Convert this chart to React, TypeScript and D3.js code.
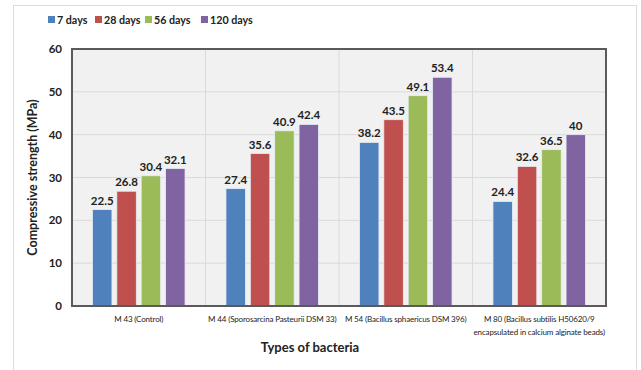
import React from "react";
import * as d3 from "d3";

const categories = [
  ["M 43 (Control)"],
  ["M 44 (Sporosarcina Pasteurii DSM 33)"],
  ["M 54  (Bacillus sphaericus DSM 396)"],
  ["M 80 (Bacillus subtilis H50620/9", "encapsulated in calcium alginate beads)"],
];
const seriesNames = ["7 days", "28 days", "56 days", "120 days"];
const seriesColors = ["#4f81bd", "#c0504d", "#9bbb59", "#8064a2"];
const values7 = [22.5, 27.4, 38.2, 24.4];
const values28 = [26.8, 35.6, 43.5, 32.6];
const values56 = [30.4, 40.9, 49.1, 36.5];
const values120 = [32.1, 42.4, 53.4, 40];
const yTicks = [0, 10, 20, 30, 40, 50, 60];

const W = 641, H = 370;
const L = 72, R = 606, T = 49, B = 306;
const FONT = "Lato, 'Open Sans', sans-serif";

export default function App() {
  const series = [values7, values28, values56, values120];
  const x = d3.scaleBand<number>().domain(d3.range(categories.length)).range([L, R]).padding(0);
  const bw = x.bandwidth();
  const inner = d3.scaleBand<number>().domain(d3.range(series.length)).range([bw * 0.135, bw * 0.865]).paddingInner(0.2).paddingOuter(0.1);
  const y = d3.scaleLinear().domain([0, 60]).range([B, T]);
  const legendX = [48, 95, 145, 201];
  return (
    <svg width={W} height={H} style={{ position: "absolute", left: 0, top: 0, background: "#fff" }} fontFamily={FONT}>
      <rect x={13.5} y={5.5} width={623} height={400} fill="#fff" stroke="#dcdcdc" strokeWidth={1} />
      <rect x={L} y={T} width={R - L} height={B - T} fill="#f1f1f1" />
      {yTicks.slice(1, -1).map((t) => (
        <line key={t} x1={L} x2={R} y1={y(t)} y2={y(t)} stroke="#dadada" strokeWidth={1} />
      ))}
      {d3.range(1, categories.length).map((i) => (
        <line key={i} x1={x(i)!} x2={x(i)!} y1={T} y2={B} stroke="#dadada" strokeWidth={1} />
      ))}
      {categories.map((c, ci) =>
        series.map((vals, si) => {
          const bx = x(ci)! + inner(si)!;
          const w = inner.bandwidth();
          return (
            <g key={`${ci}-${si}`}>
              <rect x={bx} y={y(vals[ci])} width={w} height={B - y(vals[ci])} fill={seriesColors[si]} stroke="#e8eef6" strokeWidth={0.8} />
              <text x={bx + w / 2} y={y(vals[ci]) - 5} textAnchor="middle" fontSize={11.5} fontWeight="bold" fill="#222">
                {vals[ci]}
              </text>
            </g>
          );
        })
      )}
      <rect x={L} y={T} width={R - L} height={B - T} fill="none" stroke="#5a5a5a" strokeWidth={2} />
      {yTicks.map((t) => (
        <text key={t} x={62} y={y(t) + 4} textAnchor="end" fontSize={11.5} fontWeight="bold" fill="#222">
          {t}
        </text>
      ))}
      {categories.map((c, ci) => (
        <text key={ci} x={x(ci)! + bw / 2} y={322} textAnchor="middle" fontSize={8} letterSpacing={-0.15} fill="#222">
          {c.map((line, li) => (
            <tspan key={li} x={x(ci)! + bw / 2} dy={li === 0 ? 0 : 13}>{line}</tspan>
          ))}
        </text>
      ))}
      <text transform={`translate(37,${(T + B) / 2}) rotate(-90)`} textAnchor="middle" fontSize={12.5} fontWeight="bold" fill="#222">
        Compressive strength (MPa)
      </text>
      <text x={310} y={352} textAnchor="middle" fontSize={13} fontWeight="bold" fill="#222">
        Types of bacteria
      </text>
      {seriesNames.map((n, i) => (
        <g key={n}>
          <rect x={legendX[i]} y={16} width={7} height={7} fill={seriesColors[i]} />
          <text x={legendX[i] + 9} y={24} fontSize={10.7} fontWeight="bold" fill="#222">{n}</text>
        </g>
      ))}
    </svg>
  );
}
